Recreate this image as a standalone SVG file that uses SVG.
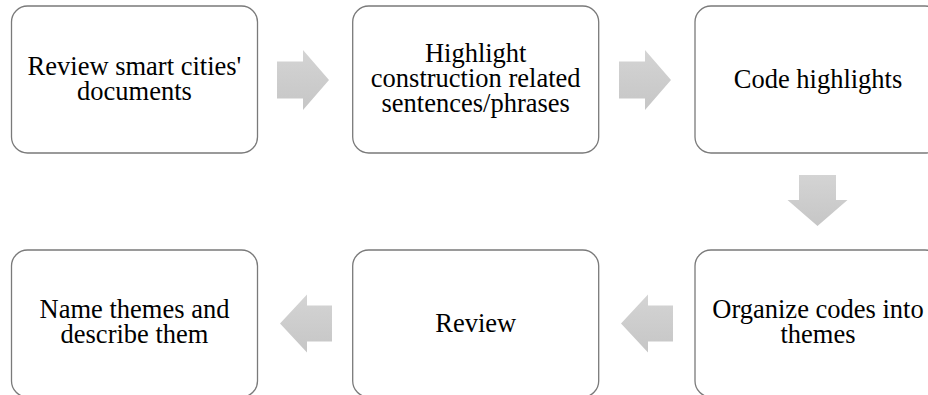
<svg xmlns="http://www.w3.org/2000/svg" width="928" height="395" viewBox="0 0 928 395">
<style>
.box{fill:#ffffff;stroke:#7a7a7a;stroke-width:1.3}
.lbl{font-family:"Liberation Serif","Times New Roman",serif;font-size:26.5px;fill:#000000;text-anchor:middle}
.arr{fill:url(#g)}
</style>
<defs>
<linearGradient id="g" x1="0" y1="0" x2="0" y2="1">
<stop offset="0" stop-color="#d4d4d4"/>
<stop offset="1" stop-color="#c6c6c6"/>
</linearGradient>
</defs>
<rect x="0" y="0" width="928" height="395" fill="#ffffff"/>
<g id="connectors">
<path class="arr" d="M277,61.5 H303 V50 L329,80 L303,110 V98.5 H277 Z"/>
<path class="arr" d="M619,61.5 H645 V50 L671,80 L645,110 V98.5 H619 Z"/>
<path class="arr" d="M799,175 H836 V200 H847.5 L817.5,226 L787.5,200 H799 Z"/>
<path class="arr" d="M673,305.5 H648 V294.5 L621,323.5 L648,352.5 V341.5 H673 Z"/>
<path class="arr" d="M332,305.5 H307 V294.5 L280,323.5 L307,352.5 V341.5 H332 Z"/>
</g>
<g id="n1">
<rect class="box" x="11.5" y="6" width="246" height="147" rx="16"/>
<text class="lbl"><tspan x="134.5" y="75">Review smart cities'</tspan><tspan x="134.5" y="100">documents</tspan></text>
</g>
<g id="n2">
<rect class="box" x="352.7" y="6" width="246" height="147" rx="16"/>
<text class="lbl"><tspan x="475.7" y="61.5">Highlight</tspan><tspan x="475.7" y="86.5">construction related</tspan><tspan x="475.7" y="111.5">sentences/phrases</tspan></text>
</g>
<g id="n3">
<rect class="box" x="695" y="6" width="246" height="147" rx="16"/>
<text class="lbl" x="818" y="88">Code highlights</text>
</g>
<g id="n4">
<rect class="box" x="695" y="250" width="246" height="147" rx="16"/>
<text class="lbl"><tspan x="818" y="318">Organize codes into</tspan><tspan x="818" y="343">themes</tspan></text>
</g>
<g id="n5">
<rect class="box" x="352.7" y="250" width="246" height="147" rx="16"/>
<text class="lbl" x="475.7" y="332">Review</text>
</g>
<g id="n6">
<rect class="box" x="11.5" y="250" width="246" height="147" rx="16"/>
<text class="lbl"><tspan x="134.5" y="318">Name themes and</tspan><tspan x="134.5" y="343">describe them</tspan></text>
</g>
</svg>
